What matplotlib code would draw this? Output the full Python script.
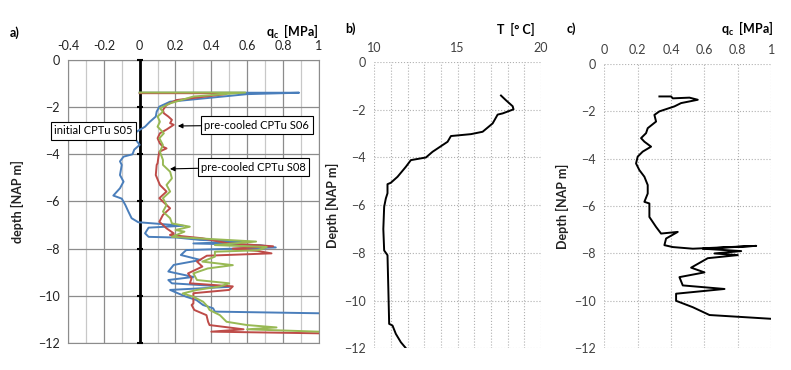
import matplotlib.pyplot as plt
import numpy as np

plt.rcParams['font.family'] = ['Lato', 'DejaVu Sans']

# panel a) cone resistance, three CPTs
s05_q = [0.0, 0.89, 0.60, 0.17, 0.11, 0.095, 0.09, 0.057, 0.03, -0.017, -0.03, 0.0, -0.03, -0.04,
         -0.09, -0.11, -0.10, -0.11, -0.09, -0.11, -0.147, -0.10, -0.08, -0.063, -0.045, -0.008,
         0.243, 0.05, 0.03, 0.05, 0.206, 0.336, 0.60, 0.30, 0.67, 0.76, 0.26, 0.23, 0.34, 0.19, 0.16,
         0.30, 0.16, 0.18, 0.50, 0.17, 0.20, 0.26, 0.317, 0.354, 0.41, 0.42, 1.0]
s05_d = [-1.39, -1.39, -1.45, -1.77, -1.98, -2.19, -2.40, -2.62, -2.83, -3.04, -3.30, -3.60, -3.80, -4.00,
         -4.10, -4.30, -4.45, -4.88, -5.16, -5.44, -5.75, -5.88, -6.15, -6.43, -6.71, -6.88,
         -7.03, -7.11, -7.35, -7.50, -7.53, -7.63, -7.70, -7.78, -7.85, -7.95, -8.06, -8.27, -8.48, -8.69, -8.97,
         -9.20, -9.33, -9.47, -9.62, -9.75, -9.85, -10.04, -10.18, -10.39, -10.53, -10.67, -10.74]

s06_q = [0.0, 0.42, 0.48, 0.206, 0.15, 0.13, 0.135, 0.16, 0.18, 0.17, 0.19, 0.15, 0.113, 0.10, 0.113,
         0.13, 0.15, 0.11, 0.105, 0.10, 0.095, 0.09, 0.113, 0.15, 0.11, 0.15, 0.17, 0.13, 0.11, 0.15,
         0.19, 0.169, 0.35, 0.49, 0.745, 0.52, 0.66, 0.736, 0.375, 0.32, 0.35, 0.27, 0.29, 0.28, 0.52,
         0.50, 0.30, 0.30, 0.29, 0.305, 0.373, 0.382, 0.39, 0.58, 0.40, 1.0]
s06_d = [-1.41, -1.41, -1.45, -1.70, -1.91, -2.12, -2.26, -2.40, -2.54, -2.68, -2.75, -2.95, -3.11, -3.32, -3.54,
         -3.68, -3.75, -3.89, -4.10, -4.38, -4.45, -4.88, -5.30, -5.58, -5.86, -6.15, -6.29, -6.57, -6.86, -7.14,
         -7.35, -7.42, -7.56, -7.77, -7.90, -8.00, -8.10, -8.20, -8.30, -8.55, -8.76, -9.05, -9.26, -9.47, -9.60,
         -9.75, -9.89, -10.32, -10.39, -10.60, -10.82, -11.10, -11.24, -11.42, -11.52, -11.59]

s08_q = [0.0, 0.59, 0.30, 0.17, 0.113, 0.13, 0.10, 0.113, 0.10, 0.135, 0.11, 0.13, 0.113, 0.13,
         0.13, 0.17, 0.18, 0.15, 0.17, 0.13, 0.15, 0.13, 0.17, 0.18, 0.28, 0.20, 0.25, 0.18,
         0.65, 0.42, 0.71, 0.66, 0.42, 0.42, 0.35, 0.52, 0.38, 0.30, 0.32, 0.50, 0.45, 0.32, 0.24,
         0.30, 0.354, 0.38, 0.39, 0.448, 0.485, 0.60, 0.764, 0.60, 1.0]
s08_d = [-1.38, -1.38, -1.55, -1.84, -2.05, -2.19, -2.40, -2.62, -2.83, -3.11, -3.32, -3.61, -3.89, -4.24,
         -4.45, -4.74, -5.02, -5.30, -5.58, -5.86, -6.15, -6.43, -6.71, -6.93, -7.07, -7.21, -7.28, -7.50,
         -7.70, -7.85, -7.93, -8.07, -8.13, -8.34, -8.55, -8.70, -8.84, -9.05, -9.33, -9.47, -9.60, -9.75, -9.90,
         -10.04, -10.25, -10.46, -10.60, -10.82, -11.10, -11.24, -11.34, -11.42, -11.52]

# panel b) temperature
temp = [17.6, 17.9, 18.3, 18.35, 17.7, 17.4, 17.1, 16.5, 15.8, 14.6, 14.4, 13.5, 13.1, 12.2, 11.9,
        11.4, 11.0, 10.8, 10.8, 10.7, 10.6, 10.55, 10.6, 10.8, 10.85, 10.9, 11.1, 11.3, 11.6, 11.9]
temp_d = [-1.40, -1.60, -1.85, -1.98, -2.15, -2.20, -2.57, -2.92, -3.02, -3.10, -3.34, -3.76, -4.00, -4.11, -4.39,
          -4.81, -5.06, -5.12, -5.50, -5.72, -6.07, -7.00, -7.90, -8.10, -9.50, -10.98, -11.05, -11.40, -11.75, -12.0]

# panel c) cone resistance
qc = [0.33, 0.40, 0.41, 0.51, 0.56, 0.46, 0.42, 0.33, 0.30, 0.31, 0.26, 0.25, 0.22, 0.24, 0.28, 0.23,
      0.20, 0.19, 0.21, 0.24, 0.26, 0.26, 0.24, 0.27, 0.27, 0.31, 0.34, 0.44, 0.37, 0.36, 0.41, 0.53,
      0.91, 0.59, 0.82, 0.66, 0.80, 0.62, 0.52, 0.60, 0.45, 0.47, 0.72, 0.43, 0.43, 0.53, 0.63, 1.0]
qc_d = [-1.37, -1.37, -1.45, -1.42, -1.51, -1.65, -1.79, -2.00, -2.15, -2.43, -2.71, -2.92, -3.13, -3.28, -3.49, -3.70,
        -3.91, -4.20, -4.48, -4.76, -5.11, -5.47, -5.82, -5.89, -6.46, -6.88, -7.16, -7.09, -7.37, -7.65, -7.73, -7.80,
        -7.68, -7.80, -7.90, -8.00, -8.07, -8.20, -8.60, -8.80, -9.00, -9.35, -9.50, -9.70, -10.00, -10.27, -10.60, -10.76]

depth_ticks = [0, -2, -4, -6, -8, -10, -12]
tick_col = '#404040'

fig = plt.figure(figsize=(7.91, 3.7), dpi=100)

# ---- a)
ax = fig.add_axes([0.086, 0.073, 0.317, 0.765])
ax.set_xlim(-0.4, 1)
ax.set_ylim(-12, 0)
ax.set_xticks(np.arange(-0.4, 1.01, 0.2))
ax.set_xticklabels(["-0.4", "-0.2", "0", "0.2", "0.4", "0.6", "0.8", "1"])
ax.set_xticks(np.arange(-0.3, 1.0, 0.2), minor=True)
ax.set_yticks(depth_ticks)
ax.xaxis.tick_top()
ax.tick_params(which='both', length=0, labelsize=9, colors='#222222', pad=6)
ax.grid(True, which='major', color='#8c8c8c', lw=0.9)
ax.grid(True, which='minor', axis='x', color='#c8c8c8', lw=0.9)
for s in ax.spines.values():
    s.set_color('#8c8c8c')
ax.axvline(0, color='k', lw=2, zorder=3)
ax.plot(np.zeros(len(depth_ticks)), depth_ticks, ls='none', marker='_', ms=5, mew=1.5, color='k',
        clip_on=False, zorder=4)
ax.plot(s05_q, s05_d, color='#4a7ebb', lw=1.4, zorder=5)
ax.plot(s06_q, s06_d, color='#be4b48', lw=1.4, zorder=5)
ax.plot(s08_q, s08_d, color='#98b954', lw=1.4, zorder=5)
ax.set_ylabel("depth [NAP m]", fontweight='bold', fontsize=9, color='#222222', labelpad=10)

box = dict(boxstyle='square,pad=0.3', fc='white', ec='k', lw=0.8)
ax.text(-0.26, -3.0, "initial CPTu S05", fontsize=8, ha='center', va='center', bbox=box, zorder=6)
ax.annotate("pre-cooled CPTu S06", xy=(0.213, -2.8), xytext=(0.654, -2.76), fontsize=8,
            ha='center', va='center', bbox=box, zorder=6,
            arrowprops=dict(arrowstyle='-|>', color='k', lw=0.8, shrinkA=0, shrinkB=0, mutation_scale=7))
ax.annotate("pre-cooled CPTu S08", xy=(0.169, -4.62), xytext=(0.637, -4.54), fontsize=8,
            ha='center', va='center', bbox=box, zorder=6,
            arrowprops=dict(arrowstyle='-|>', color='k', lw=0.8, shrinkA=0, shrinkB=0, mutation_scale=7))

fig.text(10 / 791, 1 - 33 / 370, "a)", fontsize=9, fontweight='bold', va='center')
fig.text(319 / 791, 1 - 32 / 370, r"q$_\mathregular{c}$  [MPa]", fontsize=9, fontweight='bold',
         ha='right', va='center')

# ---- b) and c)
def dotted_panel(pos, xlim, xticks, xlabels, vgrid):
    bx = fig.add_axes(pos)
    bx.set_xlim(*xlim)
    bx.set_ylim(-12, 0)
    bx.set_xticks(xticks)
    bx.set_xticklabels(xlabels)
    bx.set_xticks(vgrid, minor=True)
    bx.set_yticks(depth_ticks)
    bx.xaxis.tick_top()
    bx.tick_params(which='both', length=0, labelsize=9, colors=tick_col, pad=6)
    bx.grid(True, which='both', color='#b0b0b0', ls=':', lw=0.8)
    for s in bx.spines.values():
        s.set_visible(False)
    bx.set_ylabel("Depth [NAP m]", fontweight='bold', fontsize=9, color='#222222', labelpad=4)
    return bx

bx = dotted_panel([0.473, 0.059, 0.211, 0.773], (10, 20), [10, 15, 20], ["10", "15", "20"],
                  np.arange(10, 21, 1))
bx.plot(temp, temp_d, color='k', lw=1.4)
fig.text(345 / 791, 1 - 29 / 370, "b)", fontsize=9, fontweight='bold', va='center')
fig.text(535 / 791, 1 - 29 / 370, "T  [° C]", fontsize=9, fontweight='bold', ha='right', va='center')

cx = dotted_panel([0.764, 0.059, 0.211, 0.768], (0, 1), np.arange(0, 1.01, 0.2),
                  ["0", "0.2", "0.4", "0.6", "0.8", "1"], np.arange(0, 1.01, 0.2))
cx.plot(qc, qc_d, color='k', lw=1.4)
fig.text(567 / 791, 1 - 29 / 370, "c)", fontsize=9, fontweight='bold', va='center')
fig.text(774 / 791, 1 - 29 / 370, r"q$_\mathregular{c}$  [MPa]", fontsize=9, fontweight='bold',
         ha='right', va='center')

fig.savefig("out.png", dpi=100)
